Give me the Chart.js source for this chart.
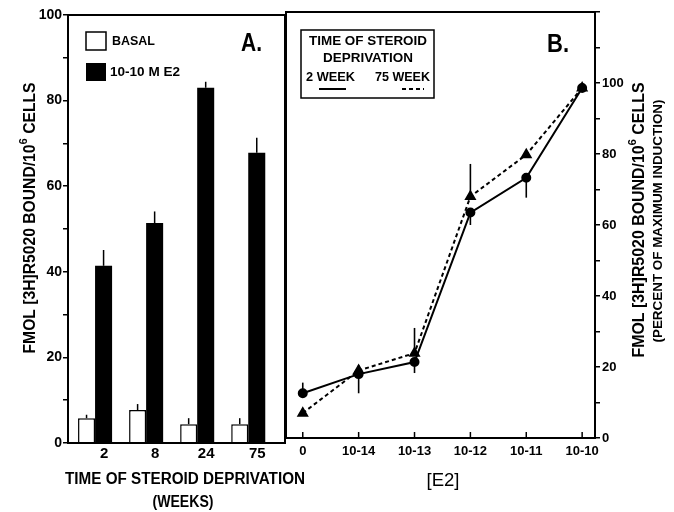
<!DOCTYPE html>
<html>
<head>
<meta charset="utf-8">
<title>Progesterone receptor induction</title>
<script src="https://cdn.jsdelivr.net/npm/chart.js@4.4.1/dist/chart.umd.min.js"></script>
<style>
  html, body { margin: 0; padding: 0; background: #fff; }
  #wrap { position: relative; width: 674px; height: 512px; }
  #wrap canvas { position: absolute; left: 0; top: 0; }
</style>
</head>
<body>
<div id="wrap">
  <canvas id="chartA" width="674" height="512"></canvas>
  <canvas id="chartB" width="674" height="512"></canvas>
</div>
<script>
// Panel A: receptor levels by weeks of steroid deprivation
const weeks = ['2', '8', '24', '75'];
const basal = [5.8, 7.7, 4.4, 4.4];
const basalErr = [0.8, 1.4, 1.4, 1.4];
const e2Treated = [41.4, 51.4, 83.0, 67.8];
const e2TreatedErr = [3.7, 2.7, 1.4, 3.5];

// Panel B: dose response, percent of maximum induction
const doses = ['0', '10-14', '10-13', '10-12', '10-11', '10-10'];
const week2 = [12.6, 18.0, 21.4, 63.5, 73.3, 98.6];
const week2Err = [3.0, -5.4, -3.1, -3.5, -5.6, 0];   // sign = direction drawn
const week75 = [7.0, 19.0, 23.9, 68.0, 79.8, 98.6];
const week75Err = [0, 1.5, 7.1, 9.2, 0, 0];

const FONT = '"Liberation Sans", Arial, Helvetica, sans-serif';
Chart.defaults.font.family = FONT;
Chart.defaults.color = '#000';
Chart.defaults.animation = false;

function drawText(ctx, text, x, y, font, fitW, align) {
  ctx.save();
  ctx.font = font;
  ctx.fillStyle = '#000';
  ctx.textBaseline = 'middle';
  ctx.textAlign = align || 'center';
  const w = ctx.measureText(text).width;
  ctx.translate(x, y);
  if (fitW) ctx.scale(fitW / w, 1);
  ctx.fillText(text, 0, 0);
  ctx.restore();
}

// vertical "FMOL [3H]R5020 BOUND/10^6 CELLS" title with a raised 6
function drawCellsTitle(ctx, cx, cy, size, len) {
  const parts = [['FMOL [3H]R5020 BOUND/10', false], ['6', true], [' CELLS', false]];
  ctx.save();
  ctx.fillStyle = '#000';
  ctx.translate(cx, cy);
  ctx.rotate(-Math.PI / 2);
  ctx.textBaseline = 'middle';
  ctx.textAlign = 'left';
  const fontFor = sup => 'bold ' + (sup ? size * 0.72 : size) + 'px ' + FONT;
  let total = 0;
  parts.forEach(p => { ctx.font = fontFor(p[1]); total += ctx.measureText(p[0]).width; });
  ctx.scale(len / total, 1);
  let x = -total / 2;
  parts.forEach(p => {
    ctx.font = fontFor(p[1]);
    ctx.fillText(p[0], x, p[1] ? -size * 0.42 : 0);
    x += ctx.measureText(p[0]).width;
  });
  ctx.restore();
}

function vline(ctx, x, y1, y2, w) {
  ctx.beginPath();
  ctx.lineWidth = w;
  ctx.moveTo(x, y1);
  ctx.lineTo(x, y2);
  ctx.stroke();
}

const panelA = {
  id: 'panelA',
  afterDatasetsDraw(chart) {
    const ctx = chart.ctx;
    const ys = chart.scales.y;
    ctx.save();
    ctx.strokeStyle = '#000';
    [[basal, basalErr], [e2Treated, e2TreatedErr]].forEach((pair, di) => {
      chart.getDatasetMeta(di).data.forEach((bar, j) => {
        vline(ctx, bar.x, bar.y, ys.getPixelForValue(pair[0][j] + pair[1][j]), 1.5);
      });
    });
    ctx.restore();
  },
  afterDraw(chart) {
    const ctx = chart.ctx;
    const a = chart.chartArea;
    ctx.save();
    ctx.strokeStyle = '#000';
    ctx.lineWidth = 2;
    ctx.strokeRect(a.left, a.top, a.right - a.left, a.bottom - a.top);

    // legend
    ctx.lineWidth = 1.5;
    ctx.fillStyle = '#fff';
    ctx.fillRect(86, 32, 20, 18);
    ctx.strokeRect(86, 32, 20, 18);
    ctx.fillStyle = '#000';
    ctx.fillRect(86, 63, 20, 18);
    drawText(ctx, 'BASAL', 112, 41, 'bold 13px ' + FONT, 43, 'left');
    drawText(ctx, '10-10 M E2', 110, 72, 'bold 13px ' + FONT, 70, 'left');
    drawText(ctx, 'A.', 241, 44, 'bold 26px ' + FONT, 21, 'left');

    drawCellsTitle(ctx, 31, 218, 16, 271);
    drawText(ctx, 'TIME OF STEROID DEPRIVATION', 185, 480, 'bold 16px ' + FONT, 240);
    drawText(ctx, '(WEEKS)', 183, 503, 'bold 16px ' + FONT, 61);
    ctx.restore();
  }
};

const panelB = {
  id: 'panelB',
  afterDatasetsDraw(chart) {
    const ctx = chart.ctx;
    const ys = chart.scales.y;
    ctx.save();
    ctx.strokeStyle = '#000';
    [[week2, week2Err], [week75, week75Err]].forEach((pair, di) => {
      chart.getDatasetMeta(di).data.forEach((pt, j) => {
        if (pair[1][j] !== 0) {
          vline(ctx, pt.x, pt.y, ys.getPixelForValue(pair[0][j] + pair[1][j]), 1.6);
        }
      });
    });
    ctx.restore();
  },
  afterDraw(chart) {
    const ctx = chart.ctx;
    const a = chart.chartArea;
    const xs = chart.scales.x;
    ctx.save();
    ctx.strokeStyle = '#000';
    ctx.lineWidth = 2;
    ctx.strokeRect(a.left, a.top, a.right - a.left, a.bottom - a.top);

    // dose ticks point inward from the bottom axis
    doses.forEach((d, i) => vline(ctx, xs.getPixelForValue(i), a.bottom, a.bottom - 6, 1.5));

    // legend box
    ctx.lineWidth = 1.5;
    ctx.strokeRect(301, 30, 133, 68);
    drawText(ctx, 'TIME OF STEROID', 368, 41, 'bold 13px ' + FONT, 118);
    drawText(ctx, 'DEPRIVATION', 368, 58, 'bold 13px ' + FONT, 90);
    drawText(ctx, '2 WEEK', 306, 77, 'bold 13px ' + FONT, 49, 'left');
    drawText(ctx, '75 WEEK', 430, 77, 'bold 13px ' + FONT, 55, 'right');
    ctx.lineWidth = 2;
    ctx.beginPath();
    ctx.moveTo(319, 89);
    ctx.lineTo(346, 89);
    ctx.stroke();
    ctx.setLineDash([4, 3]);
    ctx.beginPath();
    ctx.moveTo(402, 89);
    ctx.lineTo(424, 89);
    ctx.stroke();
    ctx.setLineDash([]);

    drawText(ctx, 'B.', 547, 45, 'bold 26px ' + FONT, 22, 'left');
    drawText(ctx, '[E2]', 443, 481, '18px ' + FONT, 33);

    drawCellsTitle(ctx, 640, 220, 16, 275);
    ctx.save();
    ctx.translate(659, 221);
    ctx.rotate(-Math.PI / 2);
    drawText(ctx, '(PERCENT OF MAXIMUM INDUCTION)', 0, 0, 'bold 12px ' + FONT, 243);
    ctx.restore();
    ctx.restore();
  }
};

new Chart(document.getElementById('chartA'), {
  type: 'bar',
  data: {
    datasets: [
      {
        label: 'BASAL',
        data: basal.map((v, i) => ({ x: i, y: v })),
        backgroundColor: '#fff',
        borderColor: '#000',
        borderWidth: 1.5
      },
      {
        label: '10-10 M E2',
        data: e2Treated.map((v, i) => ({ x: i, y: v })),
        backgroundColor: '#000',
        borderColor: '#000',
        borderWidth: 0
      }
    ]
  },
  options: {
    responsive: false,
    animation: false,
    categoryPercentage: 0.667,
    barPercentage: 1.0,
    layout: { padding: { left: 0, top: 15, right: 389, bottom: 0 } },
    plugins: { legend: { display: false }, tooltip: { enabled: false } },
    scales: {
      x: {
        type: 'linear',
        offset: false,
        min: -0.53,
        max: 3.72,
        grid: { display: false, drawTicks: false },
        border: { display: false },
        afterBuildTicks: axis => { axis.ticks = weeks.map((w, i) => ({ value: i })); },
        afterFit: axis => { axis.height = 512 - 443; },
        ticks: {
          callback: v => weeks[v],
          labelOffset: 9,
          padding: 2,
          maxRotation: 0,
          font: { size: 15, weight: 'bold' }
        }
      },
      y: {
        min: 0,
        max: 100,
        grid: { drawOnChartArea: false, drawTicks: true, tickLength: 5, color: '#000', lineWidth: 1.5 },
        border: { display: false },
        afterFit: axis => { axis.width = 68; },
        ticks: {
          stepSize: 10,
          padding: 1,
          callback: v => (v % 20 === 0 ? v : ''),
          font: { size: 14, weight: 'bold' }
        }
      }
    }
  },
  plugins: [panelA]
});

new Chart(document.getElementById('chartB'), {
  type: 'line',
  data: {
    datasets: [
      {
        label: '2 WEEK',
        data: week2.map((v, i) => ({ x: i, y: v })),
        borderColor: '#000',
        borderWidth: 2,
        pointStyle: 'circle',
        pointRadius: 4,
        pointBackgroundColor: '#000',
        pointBorderColor: '#000',
        fill: false,
        tension: 0
      },
      {
        label: '75 WEEK',
        data: week75.map((v, i) => ({ x: i, y: v })),
        borderColor: '#000',
        borderWidth: 2,
        borderDash: [4, 3],
        pointStyle: 'triangle',
        pointRadius: 5,
        pointBackgroundColor: '#000',
        pointBorderColor: '#000',
        fill: false,
        tension: 0
      }
    ]
  },
  options: {
    responsive: false,
    animation: false,
    layout: { padding: { left: 286, top: 12, right: 0, bottom: 0 } },
    plugins: { legend: { display: false }, tooltip: { enabled: false } },
    scales: {
      x: {
        type: 'linear',
        min: -0.3,
        max: 5.23,
        grid: { display: false, drawTicks: false },
        border: { display: false },
        afterBuildTicks: axis => { axis.ticks = doses.map((d, i) => ({ value: i })); },
        afterFit: axis => { axis.height = 512 - 438; },
        ticks: {
          callback: v => doses[v],
          padding: 6,
          maxRotation: 0,
          font: { size: 13, weight: 'bold' }
        }
      },
      y: {
        position: 'right',
        min: 0,
        max: 120,
        grid: { drawOnChartArea: false, drawTicks: true, tickLength: 5, color: '#000', lineWidth: 1.5 },
        border: { display: false },
        afterFit: axis => { axis.width = 674 - 595; },
        ticks: {
          stepSize: 10,
          padding: 2,
          callback: v => (v % 20 === 0 && v <= 100 ? v : ''),
          font: { size: 13, weight: 'bold' }
        }
      }
    }
  },
  plugins: [panelB]
});
</script>
</body>
</html>
